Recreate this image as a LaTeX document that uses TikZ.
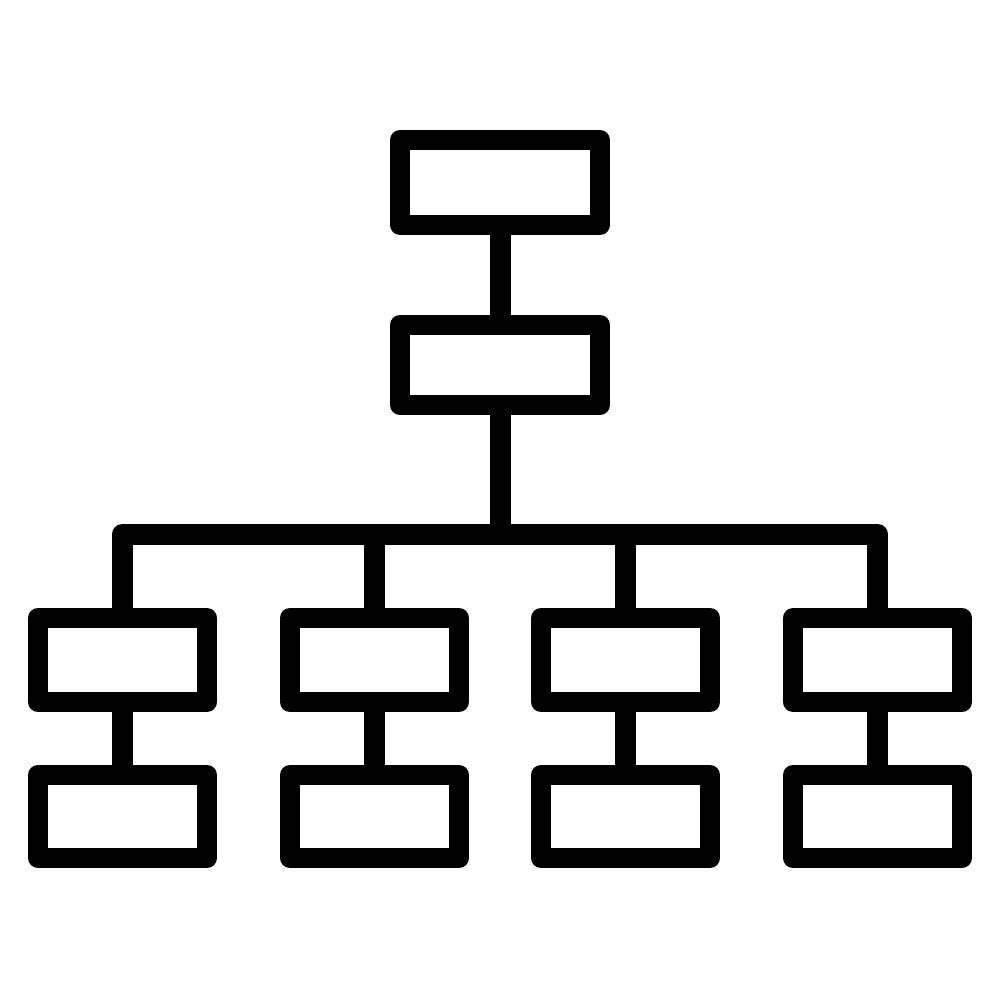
\documentclass[tikz,border=0pt]{standalone}
\begin{document}
\begin{tikzpicture}[x=1pt,y=-1pt,
  box/.style={draw=black,line width=20pt,line join=round,rectangle,inner sep=0pt,
    minimum width=169pt,minimum height=84pt},
  wide/.style={box,minimum width=200pt},
  conn/.style={draw=black,line width=21pt,line join=round}]
\useasboundingbox[fill=white] (0,0) rectangle (1000,1000);
\node[wide,minimum height=85pt] (top) at (500,182.5) {};
\node[wide,minimum height=80pt] (mid) at (500,365) {};
\foreach \i/\x in {1/122.5,2/374.5,3/625.5,4/877.5}{
  \node[box] (a\i) at (\x,660) {};
  \node[box,minimum height=83pt] (b\i) at (\x,816.5) {};
  \draw[conn] (a\i.south) -- (b\i.north);
}
\coordinate (bus) at (500,534);
\draw[conn] (top.south) -- (mid.north);
\draw[conn] (mid.south) -- (bus);
\draw[conn] (a1.north) |- (bus) -| (a4.north);
\draw[conn] (a2.north) -- (a2.north |- bus);
\draw[conn] (a3.north) -- (a3.north |- bus);
\end{tikzpicture}
\end{document}
